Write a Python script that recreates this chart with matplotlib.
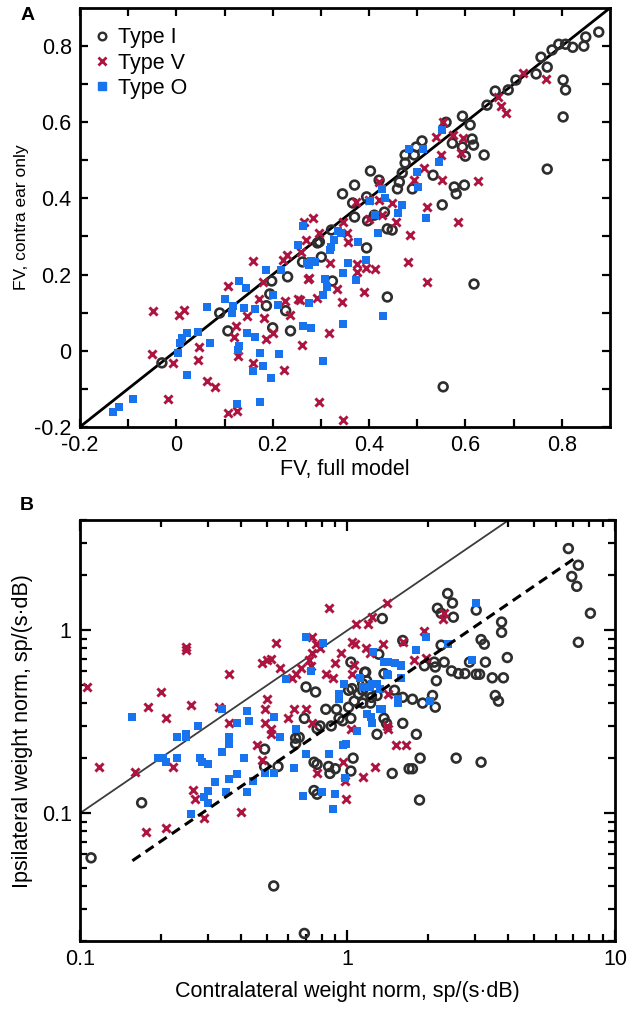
import numpy as np
import matplotlib
matplotlib.use("Agg")
import matplotlib.pyplot as plt
from matplotlib.lines import Line2D
from matplotlib.ticker import FixedLocator, NullFormatter, LogLocator

plt.rcParams['font.family'] = ['Liberation Sans', 'DejaVu Sans']

# ---------------- Panel A data: FV full model (x) vs FV contra ear only (y)
a_typeI_x = [0.877, 0.850, 0.846, 0.823, 0.808, 0.794, 0.78, 0.757, 0.77, 0.747, 0.705, 0.803, 0.808, 0.689,
             0.662, 0.645, 0.803, 0.77, 0.594, 0.61, 0.614, 0.617, 0.594, 0.573, 0.60, 0.639, 0.51, 0.498,
             0.475, 0.494, 0.475, 0.469, 0.403, 0.463, 0.459, 0.49, 0.533, 0.577, 0.598, 0.581, 0.552, 0.421,
             0.37, 0.345, 0.395, 0.366, 0.37, 0.432, 0.411, 0.397, 0.438, 0.448, 0.322, 0.297, 0.395, 0.301,
             0.262, 0.324, 0.438, 0.618, 0.554, -0.03, 0.09, 0.107, 0.187, 0.198, 0.194, 0.20, 0.227, 0.231,
             0.237, 0.293, 0.56]
a_typeI_y = [0.837, 0.824, 0.80, 0.797, 0.805, 0.805, 0.79, 0.771, 0.745, 0.727, 0.711, 0.711, 0.685, 0.685,
             0.682, 0.645, 0.614, 0.477, 0.616, 0.593, 0.556, 0.54, 0.535, 0.545, 0.511, 0.514, 0.551, 0.535,
             0.514, 0.514, 0.493, 0.467, 0.472, 0.443, 0.425, 0.425, 0.461, 0.43, 0.435, 0.412, 0.383, 0.448,
             0.435, 0.412, 0.404, 0.388, 0.351, 0.364, 0.356, 0.341, 0.32, 0.317, 0.317, 0.286, 0.27, 0.246,
             0.233, 0.183, 0.141, 0.175, -0.095, -0.032, 0.099, 0.052, 0.118, 0.183, 0.149, 0.06, 0.105, 0.194,
             0.052, 0.283, 0.60]

a_typeV_x = [0.72, 0.767, 0.668, 0.674, 0.685, 0.554, 0.54, 0.575, 0.595, 0.591, 0.55, 0.515, 0.552, 0.627,
             0.494, 0.521, 0.585, 0.486, 0.421, 0.374, 0.399, 0.421, 0.448, 0.401, 0.428, 0.457, 0.355, 0.345,
             0.283, 0.27, 0.297, 0.357, 0.48, 0.521, 0.39, 0.413, 0.394, 0.376, 0.376, 0.32, 0.276, 0.334,
             0.343, 0.293, 0.256, 0.316, 0.26, 0.297, 0.345, -0.049, -0.051, -0.007, 0.005, 0.015, -0.018,
             0.047, 0.045, 0.063, 0.08, 0.107, 0.123, 0.119, 0.129, 0.107, 0.125, 0.146, 0.16, 0.179, 0.171,
             0.181, 0.187, 0.2, 0.16, 0.223, 0.225, 0.235, 0.221, 0.252, 0.274, 0.266, 0.258, 0.229]
a_typeV_y = [0.729, 0.713, 0.666, 0.643, 0.624, 0.60, 0.561, 0.566, 0.559, 0.519, 0.514, 0.48, 0.448, 0.446,
             0.448, 0.377, 0.338, 0.304, 0.443, 0.39, 0.396, 0.396, 0.388, 0.346, 0.356, 0.338, 0.309, 0.338,
             0.349, 0.291, 0.309, 0.286, 0.233, 0.181, 0.154, 0.215, 0.217, 0.228, 0.207, 0.23, 0.191, 0.162,
             0.128, 0.139, 0.133, 0.047, 0.015, -0.134, -0.182, 0.104, -0.008, -0.032, 0.094, 0.107, -0.127,
             0.01, -0.024, -0.079, -0.095, 0.17, 0.065, 0.036, -0.014, -0.163, -0.158, 0.091, 0.236, 0.181, 0.136,
             0.086, 0.031, 0.047, -0.032, -0.05, 0.131, 0.094, 0.238, 0.136, 0.188, 0.338, 0.259, 0.251]

a_typeO_x = [-0.132, -0.119, -0.09, 0.022, 0.003, 0.007, 0.011, 0.022, 0.045, 0.069, 0.063, 0.102, 0.115, 0.117,
             0.131, 0.144, 0.14, 0.131, 0.129, 0.146, 0.163, 0.163, 0.173, 0.16, 0.179, 0.196, 0.214, 0.173,
             0.125, 0.187, 0.2, 0.212, 0.218, 0.262, 0.252, 0.272, 0.28, 0.276, 0.262, 0.28, 0.403, 0.469,
             0.461, 0.519, 0.413, 0.419, 0.335, 0.342, 0.328, 0.322, 0.318, 0.378, 0.394, 0.357, 0.345, 0.374,
             0.287, 0.276, 0.308, 0.312, 0.305, 0.345, 0.43, 0.305, 0.552, 0.546, 0.50, 0.502, 0.484, 0.513,
             0.428, 0.434]
a_typeO_y = [-0.161, -0.148, -0.127, -0.064, -0.006, 0.02, 0.034, 0.047, 0.049, 0.02, 0.115, 0.136, 0.099, 0.118,
             0.183, 0.165, 0.112, 0.013, 0.002, 0.047, 0.036, 0.11, -0.006, -0.053, -0.04, -0.071, -0.008, -0.134,
             -0.14, 0.212, 0.146, 0.12, 0.212, 0.328, 0.278, 0.23, 0.236, 0.125, 0.065, 0.06, 0.392, 0.383,
             0.362, 0.349, 0.356, 0.309, 0.315, 0.308, 0.291, 0.273, 0.265, 0.286, 0.238, 0.23, 0.204, 0.186,
             0.233, 0.225, 0.188, 0.167, 0.146, 0.07, 0.091, -0.027, 0.58, 0.496, 0.469, 0.43, 0.53, 0.53,
             0.425, 0.401]

a_identity = [-0.2, 0.9]

# ---------------- Panel B data: contralateral (x) vs ipsilateral (y) weight norm
b_typeI_x = [6.7, 7.3, 6.9, 7.2, 8.1, 7.3, 2.37, 2.47, 2.17, 2.24, 2.49, 3.03, 3.77, 3.77, 3.16, 3.25, 3.96,
             3.28, 2.86, 2.24, 2.3, 2.11, 1.94, 2.13, 2.45, 2.6, 2.75, 3.03, 3.12, 3.48, 3.83, 2.15, 3.57, 3.67,
             2.08, 2.13, 1.91, 1.75, 1.61, 1.35, 1.31, 1.03, 1.16, 1.18, 1.37, 1.5, 1.61, 1.04, 1.01, 1.1, 1.14,
             1.21, 1.23, 1.29, 1.06, 1.14, 1.22, 0.70, 0.76, 0.83, 0.91, 0.69, 0.93, 0.96, 1.03, 0.79, 0.77, 0.87,
             1.37, 1.4, 1.61, 1.29, 1.81, 0.66, 1.05, 1.87, 2.55, 3.16, 0.85, 0.77, 0.86, 0.9, 1.03, 1.47, 1.7,
             1.75, 1.86, 0.75, 0.77, 0.69, 0.11, 0.17, 0.53, 0.49, 0.49, 0.55, 0.64, 0.64, 0.75, 1.17, 1.14, 1.01]
b_typeI_y = [2.8, 2.27, 1.97, 1.74, 1.24, 0.86, 1.59, 1.41, 1.32, 1.24, 1.18, 1.29, 1.11, 0.975, 0.89, 0.84, 0.71,
             0.67, 0.67, 0.83, 0.67, 0.67, 0.64, 0.63, 0.6, 0.58, 0.58, 0.575, 0.575, 0.55, 0.55, 0.53, 0.44, 0.41,
             0.44, 0.38, 0.40, 0.42, 0.88, 1.16, 0.74, 0.67, 0.59, 0.53, 0.58, 0.47, 0.43, 0.48, 0.47, 0.45, 0.47,
             0.45, 0.43, 0.44, 0.41, 0.40, 0.40, 0.49, 0.46, 0.37, 0.37, 0.33, 0.33, 0.32, 0.33, 0.30, 0.29, 0.30,
             0.33, 0.31, 0.31, 0.27, 0.27, 0.26, 0.2, 0.2, 0.2, 0.19, 0.18, 0.185, 0.165, 0.175, 0.17, 0.165, 0.175,
             0.175, 0.118, 0.133, 0.127, 0.022, 0.057, 0.114, 0.04, 0.224, 0.18, 0.18, 0.257, 0.24, 0.19, 0.59, 0.51, 0.38]

b_typeV_x = [0.106, 0.25, 0.25, 0.2, 0.18, 0.21, 0.26, 0.36, 0.33, 0.36, 0.48, 0.5, 0.52, 0.54, 0.56, 0.5, 0.49,
             0.49, 0.46, 0.52, 0.52, 0.63, 0.70, 0.6, 0.62, 0.64, 0.67, 0.74, 0.76, 0.74, 0.73, 0.74, 0.118, 0.16,
             0.222, 0.264, 0.27, 0.29, 0.176, 0.21, 0.40, 0.48, 0.77, 0.85, 1.4, 1.24, 1.19, 1.08, 1.04, 1.07, 1.36,
             1.17, 1.21, 0.95, 0.79, 0.72, 0.9, 1.06, 0.83, 0.88, 1.04, 1.62, 1.94, 2.29, 2.27, 1.78, 1.97, 1.42,
             1.03, 1.42, 1.52, 1.65, 0.96, 0.98, 1.14, 1.27, 1.41, 0.99]
b_typeV_y = [0.49, 0.81, 0.78, 0.46, 0.38, 0.33, 0.39, 0.58, 0.38, 0.31, 0.66, 0.69, 0.70, 0.85, 0.62, 0.42, 0.37,
             0.31, 0.235, 0.29, 0.27, 0.37, 0.37, 0.33, 0.55, 0.58, 0.62, 0.92, 0.84, 0.75, 0.64, 0.31, 0.178, 0.168,
             0.178, 0.134, 0.119, 0.094, 0.079, 0.083, 0.101, 0.195, 0.165, 1.32, 1.41, 1.19, 1.08, 1.08, 0.86, 0.84,
             0.84, 0.80, 0.75, 0.75, 0.80, 0.69, 0.66, 0.65, 0.58, 0.55, 0.58, 0.86, 0.99, 1.24, 1.15, 0.69, 0.71,
             0.45, 0.29, 0.29, 0.235, 0.235, 0.19, 0.15, 0.157, 0.18, 0.30, 0.119]

b_typeO_x = [0.157, 0.34, 0.42, 0.43, 0.277, 0.385, 0.53, 0.59, 0.70, 0.73, 0.64, 0.56, 0.23, 0.25, 0.25, 0.36,
             0.36, 0.195, 0.205, 0.21, 0.23, 0.34, 0.28, 0.285, 0.3, 0.41, 0.70, 0.385, 0.36, 0.445, 0.32, 0.35,
             0.42, 0.3, 0.29, 0.3, 0.26, 0.49, 0.53, 0.63, 0.68, 3.03, 0.81, 1.96, 1.81, 2.37, 1.25, 1.37, 1.42,
             1.5, 1.58, 1.59, 1.4, 1.42, 2.93, 1.59, 0.97, 0.93, 0.93, 1.24, 1.29, 1.32, 1.11, 1.55, 1.54, 2.03,
             1.18, 1.23, 1.24, 1.32, 1.35, 1.09, 0.96, 0.99, 0.85, 0.8, 0.9, 0.88, 0.98, 1.14, 1.21]
b_typeO_y = [0.335, 0.37, 0.36, 0.32, 0.30, 0.31, 0.335, 0.54, 0.92, 0.60, 0.29, 0.26, 0.26, 0.27, 0.26, 0.26,
             0.24, 0.2, 0.2, 0.19, 0.2, 0.215, 0.2, 0.19, 0.185, 0.2, 0.21, 0.163, 0.153, 0.15, 0.148, 0.13,
             0.13, 0.133, 0.123, 0.114, 0.099, 0.165, 0.165, 0.176, 0.124, 1.41, 0.85, 0.92, 0.78, 0.84, 0.76, 0.67,
             0.67, 0.66, 0.65, 0.64, 0.58, 0.57, 0.69, 0.55, 0.51, 0.45, 0.42, 0.51, 0.51, 0.48, 0.55, 0.40, 0.42,
             0.41, 0.35, 0.335, 0.31, 0.37, 0.37, 0.28, 0.235, 0.24, 0.21, 0.13, 0.128, 0.106, 0.155, 0.49, 0.49]

b_identity_x = [0.1, 4.0]
b_fit_x = [0.157, 7.2]
b_fit_slope = 0.35

labels = ['Type I', 'Type V', 'Type O']

# ---------------- styles
c_I = '#2e2e2e'
c_V = '#ad1540'
c_O = '#1773ee'

fig = plt.figure(figsize=(6.3, 10.09), dpi=100)
axA = fig.add_axes([0.127, 0.577, 0.841, 0.415])
axB = fig.add_axes([0.127, 0.0674, 0.849, 0.417])

def style_axes(ax):
    for s in ax.spines.values():
        s.set_linewidth(2.0)
    ax.tick_params(which='both', direction='in', top=True, right=True, width=1.6,
                   labelsize=15.5, pad=6)

MS_O = 40
MS_X = 34
MS_S = 34

# ---- Panel A
axA.plot(a_identity, a_identity, color='black', lw=2.0, zorder=1)
axA.scatter(a_typeI_x, a_typeI_y, s=MS_O, facecolors='none', edgecolors=c_I, linewidths=1.9, zorder=2)
axA.scatter(a_typeV_x, a_typeV_y, s=MS_X, marker='x', c=c_V, linewidths=2.1, zorder=3)
axA.scatter(a_typeO_x, a_typeO_y, s=MS_S, marker='s', c=c_O, linewidths=0, zorder=4)
axA.set_xlim(-0.2, 0.9)
axA.set_ylim(-0.2, 0.9)
axA.set_xticks([-0.2, 0, 0.2, 0.4, 0.6, 0.8])
axA.set_xticklabels(['-0.2', '0', '0.2', '0.4', '0.6', '0.8'])
axA.set_yticks([-0.2, 0, 0.2, 0.4, 0.6, 0.8])
axA.set_yticklabels(['-0.2', '0', '0.2', '0.4', '0.6', '0.8'])
axA.xaxis.set_minor_locator(FixedLocator(np.arange(-0.1, 0.9, 0.2)))
axA.yaxis.set_minor_locator(FixedLocator(np.arange(-0.1, 0.9, 0.2)))
style_axes(axA)
axA.tick_params(which='both', length=6)
axA.set_xlabel('FV, full model', fontsize=15.5, labelpad=2)
axA.set_ylabel('FV, contra ear only', fontsize=12.5, labelpad=4)

handles = [
    Line2D([], [], ls='none', marker='o', ms=5.5, mfc='none', mec=c_I, mew=1.7),
    Line2D([], [], ls='none', marker='x', ms=5.5, mec=c_V, mew=2.0),
    Line2D([], [], ls='none', marker='s', ms=5.5, mfc=c_O, mec=c_O),
]
axA.legend(handles, labels, loc='upper left', bbox_to_anchor=(0.0, 0.985), frameon=False,
           fontsize=15.5, handlelength=0.8, handletextpad=0.35, labelspacing=0.2, borderaxespad=0.2)

fig.text(0.043, 0.985, 'A', fontsize=14, fontweight='bold', ha='center', va='center')

# ---- Panel B
axB.set_xscale('log')
axB.set_yscale('log')
axB.plot(b_identity_x, b_identity_x, color='#3c3c3c', lw=1.3, zorder=1)
fx = np.array(b_fit_x)
axB.plot(fx, b_fit_slope * fx, color='black', lw=2.2, dashes=(3.2, 2.0), zorder=5)
axB.scatter(b_typeI_x, b_typeI_y, s=MS_O, facecolors='none', edgecolors=c_I, linewidths=1.9, zorder=2)
axB.scatter(b_typeV_x, b_typeV_y, s=MS_X, marker='x', c=c_V, linewidths=2.1, zorder=3)
axB.scatter(b_typeO_x, b_typeO_y, s=MS_S, marker='s', c=c_O, linewidths=0, zorder=4)
axB.set_xlim(0.1, 10)
axB.set_ylim(0.02, 4)
axB.set_xticks([0.1, 1, 10])
axB.set_xticklabels(['0.1', '1', '10'])
axB.set_yticks([0.1, 1])
axB.set_yticklabels(['0.1', '1'])
axB.xaxis.set_minor_locator(LogLocator(base=10, subs=np.arange(2, 10)))
axB.yaxis.set_minor_locator(LogLocator(base=10, subs=np.arange(2, 10)))
axB.xaxis.set_minor_formatter(NullFormatter())
axB.yaxis.set_minor_formatter(NullFormatter())
style_axes(axB)
axB.tick_params(which='major', length=8)
axB.tick_params(which='minor', length=5)
axB.set_xlabel('Contralateral weight norm, sp/(s\u00b7dB)', fontsize=15.5, labelpad=8)
axB.set_ylabel('Ipsilateral weight norm, sp/(s\u00b7dB)', fontsize=15.5, labelpad=6)

fig.text(0.043, 0.499, 'B', fontsize=14, fontweight='bold', ha='center', va='center')

fig.savefig('out.png', dpi=100)
